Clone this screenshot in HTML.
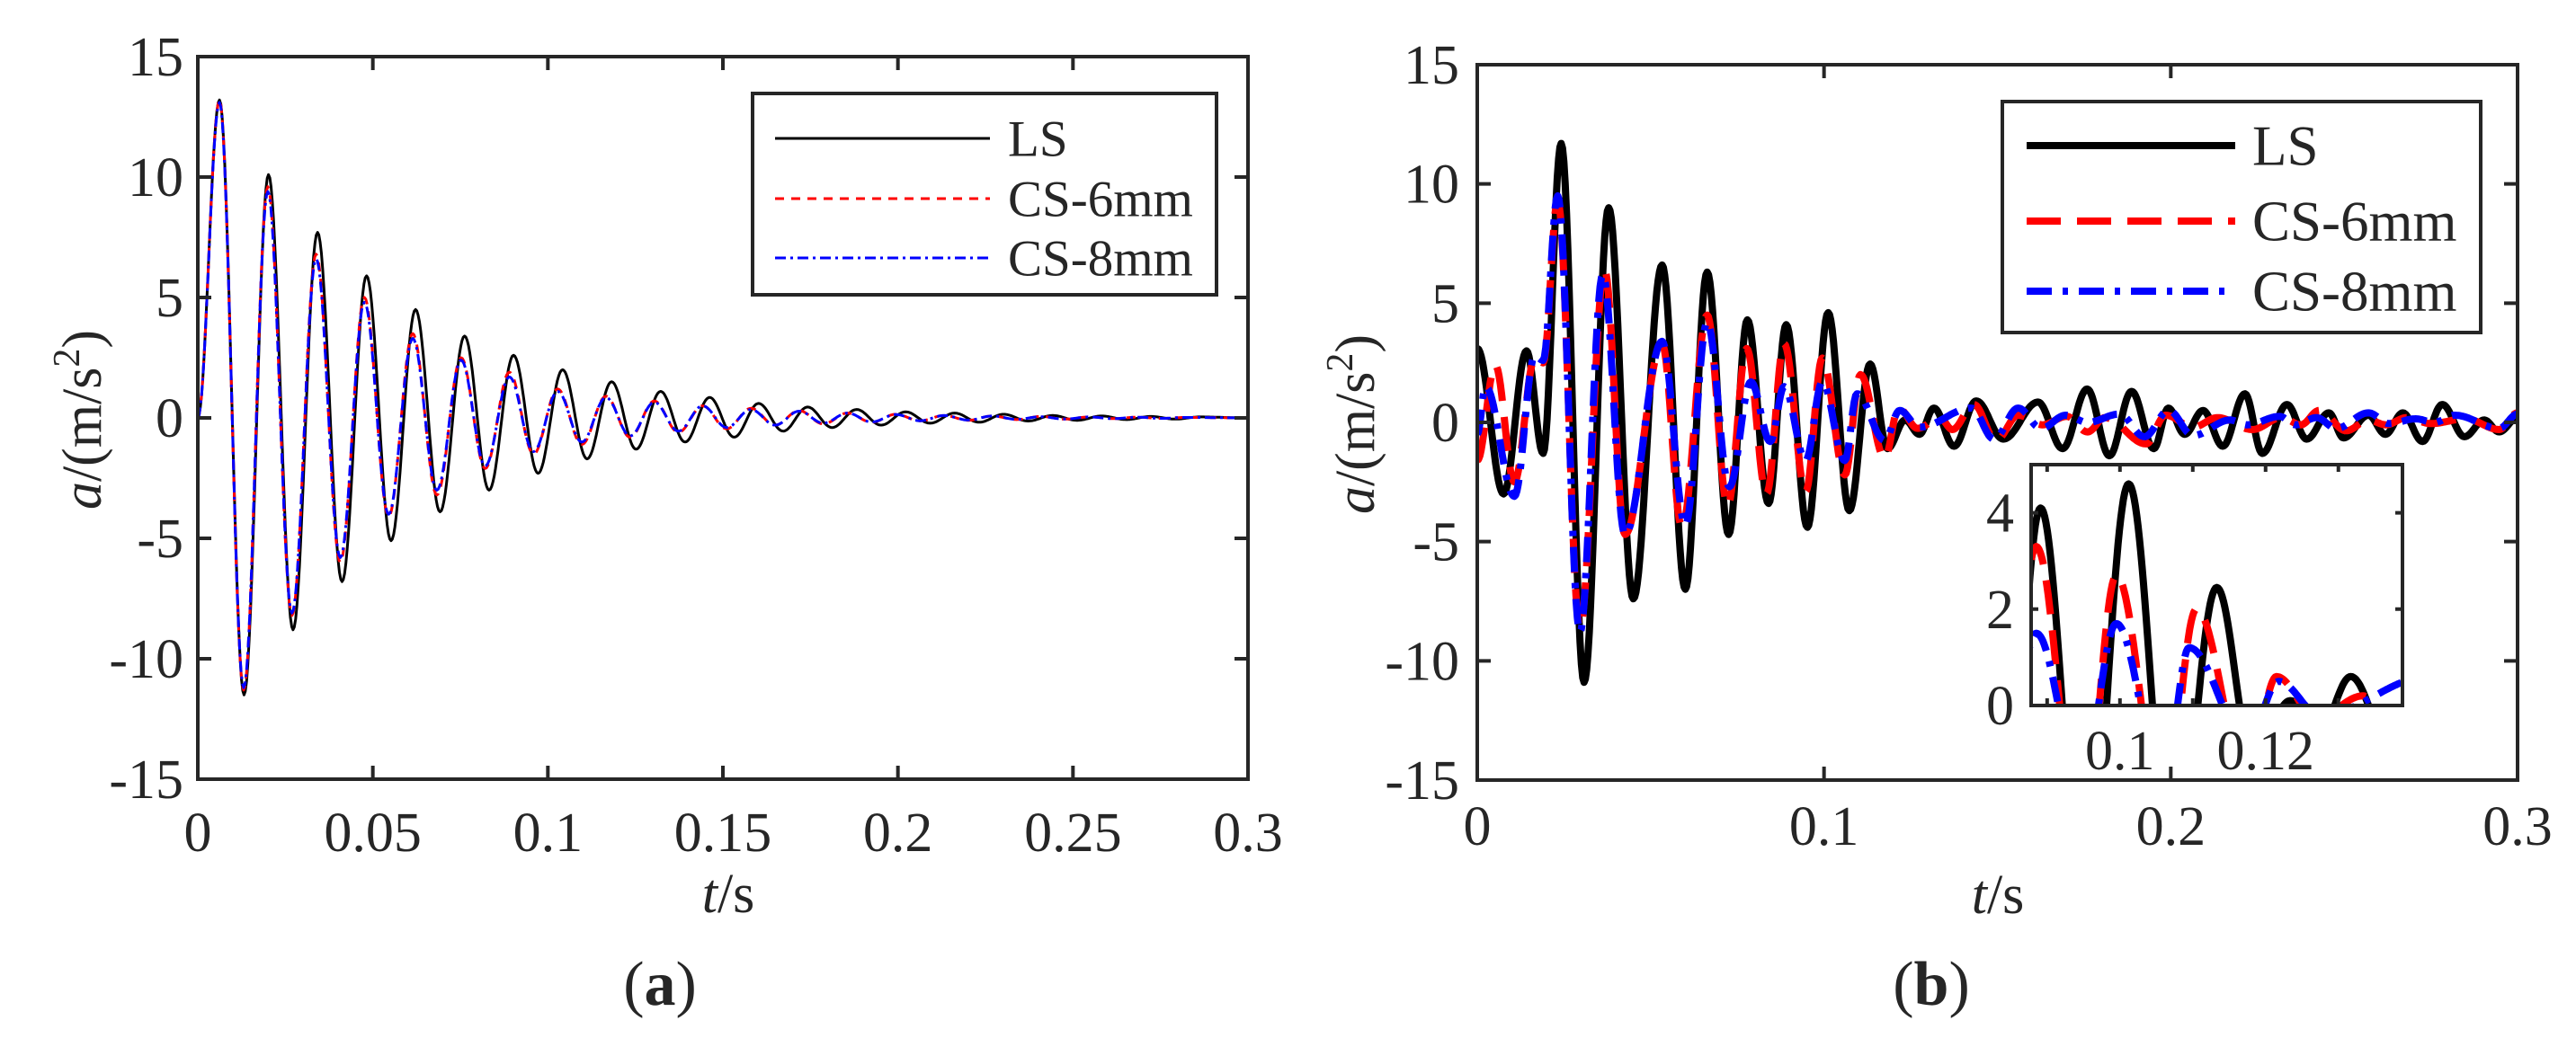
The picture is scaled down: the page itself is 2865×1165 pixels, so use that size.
<!DOCTYPE html>
<html><head><meta charset="utf-8"><style>
html,body{margin:0;padding:0;background:#fff;width:2865px;height:1165px;overflow:hidden}
svg{display:block}
text{font-family:"Liberation Serif","Times New Roman",serif;fill:#262626}
</style></head><body>
<svg id="fig" width="2865" height="1165" viewBox="0 0 2865 1165" xmlns="http://www.w3.org/2000/svg">
<defs>
<clipPath id="clipA"><rect x="220" y="63" width="1168" height="804"/></clipPath>
<clipPath id="clipB"><rect x="1643" y="72" width="1157" height="796"/></clipPath>
<clipPath id="clipI"><rect x="2259" y="517" width="413" height="268"/></clipPath>
</defs>
<g id="panelA"></g>
<g id="panelB"></g>
</svg>
<script>
// ---- Panel (a) data: extrema times (s) and accelerations (m/s^2) ----
const aTimesLS = [0,0.0062,0.0132,0.0202,0.0272,0.0342,0.0412,0.0482,0.0552,0.0622,0.0692,0.0762,0.0832,0.0902,0.0972,0.1042,0.1112,0.1182,0.1252,0.1322,0.1392,0.1462,0.1532,0.1602,0.1672,0.1742,0.1812,0.1882,0.1952,0.2022,0.2092,0.2162,0.2232,0.2302,0.2372,0.2442,0.2512,0.2582,0.2652,0.2722,0.2792,0.2862,0.3];
const aValsLS = [0,13.2,-11.5,10.1,-8.8,7.7,-6.8,5.9,-5.1,4.5,-3.9,3.4,-3.0,2.6,-2.3,2.0,-1.7,1.5,-1.3,1.1,-1.0,0.85,-0.8,0.6,-0.55,0.45,-0.4,0.35,-0.3,0.25,-0.22,0.2,-0.18,0.15,-0.13,0.1,-0.1,0.08,-0.07,0.06,-0.05,0.04,0];
const aTimesCS = [0,0.0062,0.0131,0.0200,0.0269,0.0338,0.0407,0.0476,0.0545,0.0614,0.0683,0.0752,0.0821,0.0890,0.0959,0.1028,0.1097,0.1166,0.1235,0.1304,0.1373,0.1442,0.1511,0.1580,0.1649,0.1718,0.1787,0.1856,0.1925,0.1994,0.2063,0.2132,0.2201,0.2270,0.2339,0.2408,0.2477,0.2546,0.2615,0.2684,0.2753,0.2822,0.3];
const aValsCS6 = [0,13.2,-11.3,9.6,-8.2,6.8,-6.0,5.0,-4.1,3.5,-3.2,2.5,-2.1,1.9,-1.5,1.2,-1.1,0.9,-0.8,0.7,-0.6,0.5,-0.45,0.4,-0.3,0.3,-0.25,0.2,-0.18,0.15,-0.12,0.1,-0.1,0.08,-0.07,0.06,-0.05,0.04,-0.03,0.03,-0.02,0.02,0];
const aValsCS8 = [0,13.1,-11.2,9.4,-8.1,6.6,-5.8,4.8,-4.0,3.3,-3.0,2.4,-2.0,1.7,-1.4,1.1,-1.0,0.85,-0.75,0.65,-0.55,0.5,-0.4,0.35,-0.3,0.28,-0.22,0.2,-0.17,0.14,-0.12,0.1,-0.09,0.08,-0.06,0.05,-0.05,0.04,-0.03,0.03,-0.02,0.02,0];
const aXTicks = [0,0.05,0.1,0.15,0.2,0.25,0.3];
const aXTickLabels = ["0","0.05","0.1","0.15","0.2","0.25","0.3"];
// ---- Panel (b) data ----
const bTimesLS = [0,0.0076,0.0142,0.019,0.0242,0.0308,0.0379,0.045,0.0533,0.060,0.0663,0.0725,0.0779,0.084,0.0891,0.0952,0.1012,0.1073,0.1133,0.1183,0.1234,0.1275,0.1317,0.1375,0.1439,0.1517,0.1617,0.1688,0.1759,0.1823,0.1887,0.1951,0.1993,0.2040,0.2093,0.215,0.2214,0.2264,0.2335,0.2392,0.2456,0.2498,0.257,0.2619,0.2669,0.2726,0.2783,0.2847,0.2904,0.2947,0.3];
const bValsLS = [3.1,-3.0,3.0,-1.3,11.7,-10.9,9.0,-7.4,6.6,-7.0,6.3,-4.7,4.3,-3.4,4.1,-4.4,4.6,-3.7,2.45,-1.1,0.1,-0.5,0.6,-1.0,0.9,-0.7,0.85,-1.1,1.4,-1.4,1.3,-1.1,0.6,-0.5,0.5,-1.0,1.2,-1.3,0.75,-0.7,0.4,-0.65,0.3,-0.5,0.4,-0.8,0.75,-0.6,0.1,-0.4,0.2];
const bTimesCS6 = [0,0.0052,0.0107,0.0166,0.019,0.0232,0.0296,0.0367,0.0426,0.0533,0.059,0.0663,0.0722,0.0777,0.0834,0.0885,0.0947,0.0995,0.106,0.1105,0.1175,0.1215,0.127,0.1334,0.137,0.1432,0.1496,0.156,0.163,0.170,0.176,0.181,0.1929,0.1985,0.2064,0.2135,0.2235,0.232,0.2375,0.2428,0.2506,0.257,0.262,0.268,0.275,0.285,0.2947,0.3];
const bValsCS6 = [-1.6,2.4,-2.5,2.7,2.5,9.3,-8.6,6.4,-4.7,3.3,-4.4,4.5,-3.5,3.1,-3.0,3.3,-2.9,2.7,-2.2,2.0,-1.5,0.6,-0.25,0.2,-0.3,0.75,-0.75,0.3,-0.1,0.25,-0.4,0.2,-0.9,0.3,-0.2,0.2,-0.3,0.2,-0.1,0.5,-0.35,0.1,-0.1,0.2,-0.05,0.15,-0.3,0.4];
const bTimesCS8 = [0,0.0024,0.0107,0.0166,0.019,0.0232,0.0296,0.0362,0.0426,0.0533,0.060,0.0663,0.0727,0.0789,0.0845,0.0885,0.0947,0.0995,0.106,0.1095,0.1175,0.1218,0.1275,0.1425,0.149,0.156,0.1626,0.1697,0.176,0.1852,0.1924,0.1994,0.2064,0.2171,0.222,0.2314,0.236,0.242,0.2477,0.257,0.263,0.2706,0.276,0.2819,0.2947,0.3];
const bValsCS8 = [-0.5,1.5,-3.1,2.8,2.6,9.5,-8.8,6.2,-4.7,3.4,-4.3,4.2,-2.7,1.7,-0.8,1.5,-1.6,1.7,-1.6,1.2,-0.75,0.5,-0.2,0.6,-0.7,0.6,-0.25,0.3,0.0,0.35,-0.6,0.5,-0.55,0.1,-0.1,0.25,-0.1,0.2,-0.25,0.4,-0.05,0.15,0.0,0.3,-0.25,0.35];
const bXTicks = [0,0.1,0.2,0.3];
const bXTickLabels = ["0","0.1","0.2","0.3"];
const yTicks = [-15,-10,-5,0,5,10,15];
const yTickLabels = ["-15","-10","-5","0","5","10","15"];
const insetXTicks = [0.09,0.1,0.11,0.12,0.13];
const insetXLabelVals = [0.1,0.12];
const insetXLabels = ["0.1","0.12"];
const insetYTicks = [0,2,4];
const insetYLabels = ["0","2","4"];

const NS = "http://www.w3.org/2000/svg";
function mk(tag, attrs, parent){const e=document.createElementNS(NS,tag);for(const k in attrs)e.setAttribute(k,attrs[k]);parent.appendChild(e);return e;}
function lin(d0,d1,r0,r1){return v=>r0+(v-d0)/(d1-d0)*(r1-r0);}
function curvePath(ts,vs,sx,sy){
  let d="M"+sx(ts[0]).toFixed(1)+","+sy(vs[0]).toFixed(1);
  for(let i=0;i<ts.length-1;i++){
    const x0=sx(ts[i]),x1=sx(ts[i+1]);const n=Math.max(3,Math.ceil((x1-x0)/1.5));
    for(let j=1;j<=n;j++){const s=j/n;const w=(1-Math.cos(Math.PI*s))/2;
      const t=ts[i]+(ts[i+1]-ts[i])*s;const v=vs[i]+(vs[i+1]-vs[i])*w;
      d+="L"+sx(t).toFixed(1)+","+sy(v).toFixed(1);}
  }
  return d;
}
const AX="#262626";

function axesFrame(g,L,T,R,B,sx,sy,xt,xl,fs,xlabY,ylabR){
  mk("rect",{x:L,y:T,width:R-L,height:B-T,fill:"none",stroke:AX,"stroke-width":4},g);
  xt.forEach((v,i)=>{const x=sx(v);
    const tk=mk("path",{d:`M${x},${B}V${B-15}M${x},${T}V${T+15}`,stroke:AX,"stroke-width":4},g);
    
    
    const tx=mk("text",{x:x,y:xlabY,"text-anchor":"middle","font-size":fs},g);tx.textContent=xl[i];
    
    
  });
  yTicks.forEach((v,i)=>{const y=sy(v);
    const tk=mk("path",{d:`M${L},${y}H${L+15}M${R},${y}H${R-15}`,stroke:AX,"stroke-width":4},g);
    
    
    const tx=mk("text",{x:ylabR,y:y+21,"text-anchor":"end","font-size":fs},g);tx.textContent=yTickLabels[i];
    
    
  });
}
function labels(g,xc,xy,yx,yy,tx,ty,letter){
  const xl=mk("text",{x:xc,y:xy,"text-anchor":"middle","font-size":62},g);
  xl.innerHTML='<tspan font-style="italic">t</tspan>/s';
  
  
  const yl=mk("text",{x:0,y:0,"text-anchor":"middle","font-size":62,transform:`translate(${yx},${yy}) rotate(-90)`},g);
  yl.innerHTML='<tspan font-style="italic">a</tspan>/(m/s<tspan font-size="42" dy="-24">2</tspan><tspan dy="24">)</tspan>';
  
  
  const tl=mk("text",{x:tx,y:ty,"text-anchor":"middle","font-size":70},g);
  tl.innerHTML='(<tspan font-weight="bold">'+letter+'</tspan>)';
  
  
}
function legend(g,bx,by,bw,bh,lx0,lx1,tx,rows,fs,styles){
  const lg=mk("g",{},g);
  
  
  mk("rect",{x:bx,y:by,width:bw,height:bh,fill:"#fff",stroke:AX,"stroke-width":4},lg);
  const names=["LS","CS-6mm","CS-8mm"];
  names.forEach((n,i)=>{
    const ln=mk("line",Object.assign({x1:lx0,x2:lx1,y1:rows[i],y2:rows[i],fill:"none"},styles[i]),lg);
    
    
    const t=mk("text",{x:tx,y:rows[i]+fs*0.34,"font-size":fs},lg);t.textContent=n;
    
    
  });
}

// ---------- Panel A ----------
(function(){
  const g=document.getElementById("panelA");
  const L=220,T=63,R=1388,B=867;
  const sx=lin(0,0.3,L,R), sy=lin(-15,15,B,T);
  const st=[{stroke:"#000","stroke-width":3},{stroke:"#ff0000","stroke-width":3,"stroke-dasharray":"10 8"},{stroke:"#0000ff","stroke-width":3,"stroke-dasharray":"12 5 3 5"}];
  const lines=mk("g",{"clip-path":"url(#clipA)"},g);
  const series=[[aTimesLS,aValsLS,"series-ls"],[aTimesCS,aValsCS6,"series-cs-6mm"],[aTimesCS,aValsCS8,"series-cs-8mm"]];
  series.forEach((s,i)=>{const p=mk("path",Object.assign({d:curvePath(s[0],s[1],sx,sy),fill:"none","stroke-linejoin":"round"},st[i]),lines);
    
    });
  axesFrame(g,L,T,R,B,sx,sy,aXTicks,aXTickLabels,62,947,204);
  legend(g,837,104,516,224,862,1101,1121,[154,221,287],57,st);
  labels(g,810,1015,112,467,734,1118,"a");
})();

// ---------- Panel B ----------
(function(){
  const g=document.getElementById("panelB");
  const L=1643,T=72,R=2800,B=868;
  const sx=lin(0,0.3,L,R), sy=lin(-15,15,B,T);
  const st=[{stroke:"#000","stroke-width":8},{stroke:"#ff0000","stroke-width":8,"stroke-dasharray":"38 18"},{stroke:"#0000ff","stroke-width":8,"stroke-dasharray":"28 12 6 12"}];
  const series=[[bTimesLS,bValsLS,"series-ls"],[bTimesCS6,bValsCS6,"series-cs-6mm"],[bTimesCS8,bValsCS8,"series-cs-8mm"]];
  const lines=mk("g",{"clip-path":"url(#clipB)"},g);
  series.forEach((s,i)=>{const p=mk("path",Object.assign({d:curvePath(s[0],s[1],sx,sy),fill:"none","stroke-linejoin":"round"},st[i]),lines);
    
    });
  axesFrame(g,L,T,R,B,sx,sy,bXTicks,bXTickLabels,62,940,1623);
  legend(g,2227,113,532,257,2254,2486,2505,[162,246,324],63,st);
  labels(g,2222,1016,1528,472,2148,1118,"b");
  // inset
  const iL=2259,iT=517,iR=2672,iB=785;
  const ix=lin(0.0878,0.1388,iL,iR), iy=lin(0,5,iB,iT);
  const ig=mk("g",{},g);
  
  
  mk("rect",{x:iL,y:iT,width:iR-iL,height:iB-iT,fill:"#fff"},ig);
  const il=mk("g",{"clip-path":"url(#clipI)"},ig);
  series.forEach((s,i)=>{const p=mk("path",Object.assign({d:curvePath(s[0],s[1],ix,iy),fill:"none","stroke-linejoin":"round"},st[i]),il);
    
    });
  mk("rect",{x:iL,y:iT,width:iR-iL,height:iB-iT,fill:"none",stroke:AX,"stroke-width":4},ig);
  insetXTicks.forEach(v=>{const x=ix(v);
    const tk=mk("path",{d:`M${x},${iB}V${iB-8}M${x},${iT}V${iT+8}`,stroke:AX,"stroke-width":4},ig);
    
    });
  insetXLabelVals.forEach((v,i)=>{const t=mk("text",{x:ix(v),y:856,"text-anchor":"middle","font-size":62},ig);t.textContent=insetXLabels[i];
    
    });
  insetYTicks.forEach((v,i)=>{const y=iy(v);
    const tk=mk("path",{d:`M${iL},${y}H${iL+8}M${iR},${y}H${iR-8}`,stroke:AX,"stroke-width":4},ig);
    
    
    const t=mk("text",{x:2240,y:y+21,"text-anchor":"end","font-size":62},ig);t.textContent=insetYLabels[i];
    
    });
})();
</script>
</body></html>
